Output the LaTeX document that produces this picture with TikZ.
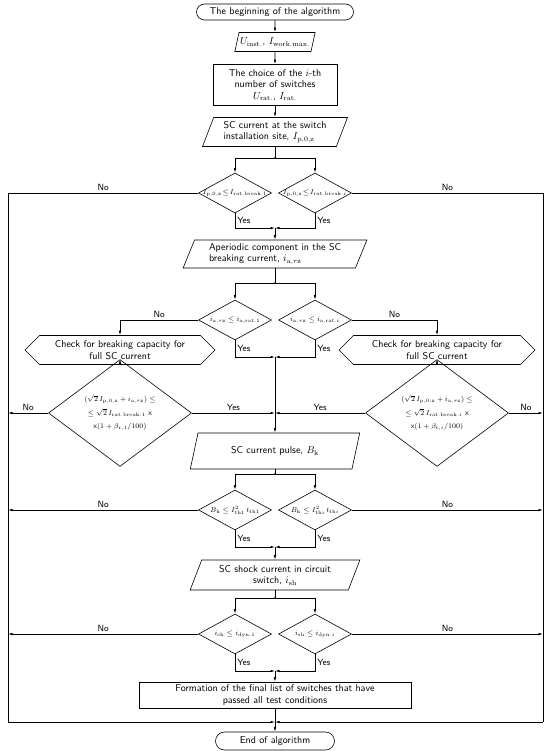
\documentclass[tikz,border=0pt]{standalone}
\usepackage{amsmath}
\usepackage{tikz}
\usetikzlibrary{
    calc,
    arrows.meta,
    positioning,
    shapes.geometric,
    shapes.misc,
    shapes.symbols
}
\tikzset{
    every node/.style={font=\sffamily\fontsize{10}{11.5}\selectfont},
    term/.style={draw,rounded rectangle,inner sep=1pt},
    datain/.style={draw,trapezium,trapezium left angle=68,trapezium right angle=112,
        trapezium stretches=true,inner sep=1pt},
    proc/.style={draw,rectangle,align=center,inner sep=1pt},
    cond/.style={draw,diamond,minimum width=73pt,minimum height=40pt,inner sep=0pt},
    bigcond/.style={draw,diamond,minimum width=143pt,minimum height=91pt,inner sep=0pt,
        align=center,font=\sffamily\fontsize{7.5}{13.5}\selectfont},
    check/.style={draw,signal,signal to=east and west,signal pointer angle=90,
        align=center,inner sep=2pt,minimum height=29pt},
    cl/.style={font=\scriptsize,inner sep=0pt},
    ans/.style={font=\sffamily\fontsize{9}{10}\selectfont,inner sep=2pt},
}

\begin{document}
\begin{tikzpicture}[x=1pt,y=-1pt,>={Latex[length=4.5pt,width=2.4pt]},line width=0.6pt]
    \useasboundingbox (0,0) rectangle (553,751);

    % main column
    \node[term,minimum width=159pt,minimum height=16pt] (start) at (275,12) {The beginning of the algorithm};
    \node[datain,minimum width=71pt,minimum height=19pt] (inp) at (275,42) {$U_{\mathrm{inst.}}$, $I_{\mathrm{work.max.}}$};
    \node[proc,minimum width=124pt,minimum height=41pt] (choice) at (275,85) {The choice of the $i$-th\\number of switches\\$U_{\mathrm{rat.}}$, $I_{\mathrm{rat.}}$};
    \node[datain,minimum width=145pt,minimum height=29pt,align=left] (site) at (275,132) {SC current at the switch\\installation site, $I_{\mathrm{p,0,z}}$};
    \node[datain,minimum width=184pt,minimum height=28pt,align=left] (aper) at (275,254) {Aperiodic component in the SC\\breaking current, $i_{\mathrm{a,\tau z}}$};
    \node[datain,minimum width=170pt,minimum height=36pt] (pulse) at (275,451) {SC current pulse, $B_{\mathrm{k}}$};
    \node[datain,minimum width=170pt,minimum height=30pt,align=center] (shock) at (275,575) {SC shock current in circuit\\switch, $i_{\mathrm{sh}}$};
    \node[proc,minimum width=272pt,minimum height=26pt] (final) at (275,695) {Formation of the final list of switches that have\\passed all test conditions};
    \node[term,minimum width=121pt,minimum height=18pt] (stop) at (275,741) {End of algorithm};

    % conditions
    \node[cond,label={[cl]center:$I_{\mathrm{p,0,z}}\!\le\! I_{\mathrm{rat.break.1}}$}] (c1a) at (235,193) {};
    \node[cond,label={[cl]center:$I_{\mathrm{p,0,z}}\!\le\! I_{\mathrm{rat.break.}i}$}] (c1b) at (315,193) {};
    \node[cond,label={[cl]center:$i_{\mathrm{a,\tau z}}\le i_{\mathrm{a,rat.1}}$}] (c2a) at (235,320) {};
    \node[cond,label={[cl]center:$i_{\mathrm{a,\tau z}}\le i_{\mathrm{a,rat.}i}$}] (c2b) at (315,320) {};
    \node[check,minimum width=190pt] (chkL) at (120,350) {Check for breaking capacity for\\full SC current};
    \node[check,minimum width=196pt] (chkR) at (437,350) {Check for breaking capacity for\\full SC current};
    \node[bigcond] (bdL) at (120,413) {$(\sqrt{2}\,I_{\mathrm{p,0,z}}+i_{\mathrm{a,\tau z}})\le$\\$\le\sqrt{2}\,I_{\mathrm{rat.break.1}}$ x\\x$(1+\beta_{\mathrm{r,1}}/100)$};
    \node[bigcond] (bdR) at (437,413) {$(\sqrt{2}\,I_{\mathrm{p,0,z}}+i_{\mathrm{a,\tau z}})\le$\\$\le\sqrt{2}\,I_{\mathrm{rat.break.}i}$ x\\x$(1+\beta_{\mathrm{r,}i}/100)$};
    \node[cond,label={[cl]center:$B_{\mathrm{k}}\le I_{\mathrm{th1}}^{2}\,t_{\mathrm{th1}}$}] (c4a) at (235,510) {};
    \node[cond,label={[cl]center:$B_{\mathrm{k}}\le I_{\mathrm{th}i}^{2}\,t_{\mathrm{th}i}$}] (c4b) at (315,510) {};
    \node[cond,label={[cl]center:$i_{\mathrm{sh}}\le i_{\mathrm{dyn.1}}$}] (c5a) at (235,634) {};
    \node[cond,label={[cl]center:$i_{\mathrm{sh}}\le i_{\mathrm{dyn.}i}$}] (c5b) at (315,634) {};

    % split and join points, rails
    \coordinate (s1) at (275,158);
    \coordinate (j1) at (275,228);
    \coordinate (s2) at (275,283);
    \coordinate (j2) at (275,357);
    \coordinate (s4) at (275,474);
    \coordinate (j4) at (275,547);
    \coordinate (s5) at (275,598);
    \coordinate (j5) at (275,671);
    \coordinate (tl) at (8,193);
    \coordinate (tr) at (543,193);
    \coordinate (bl) at (8,722);
    \coordinate (br) at (543,722);
    \coordinate (jend) at (275,722);

    \draw[->] (start) -- (inp);
    \draw[->] (inp) -- (choice);
    \draw[->] (choice) -- (site);
    \draw (site) -- (s1);
    \draw[->] (s1) -| (c1a.north);
    \draw[->] (s1) -| (c1b.north);
    \draw[->] (c1a.south) |- node[ans,pos=0.25,right](y1a){Yes} (j1);
    \draw[->] (c1b.south) |- node[ans,pos=0.25,right](y1b){Yes} (j1);
    \draw[->] (j1) -- (aper);
    \draw (c1a.west) -- node[ans,above](n1a){No} (tl) -- (bl);
    \draw (c1b.east) -- node[ans,above](n1b){No} (tr) -- (br);

    \draw (aper) -- (s2);
    \draw[->] (s2) -| (c2a.north);
    \draw[->] (s2) -| (c2b.north);
    \draw[->] (c2a.west) -| node[ans,pos=0.25,above](n2a){No} (chkL.north);
    \draw[->] (c2b.east) -| node[ans,pos=0.25,above](n2b){No} (chkR.north);
    \draw[->] (c2a.south) |- node[ans,pos=0.25,right](y2a){Yes} (j2);
    \draw[->] (c2b.south) |- node[ans,pos=0.25,right](y2b){Yes} (j2);
    \draw[->] (j2) -- (pulse);
    \draw[->] (chkL) -- (bdL);
    \draw[->] (chkR) -- (bdR);
    \draw[->] (bdL.west) -- node[ans,above](n3a){No} (bdL.west -| tl);
    \draw[->] (bdR.east) -- node[ans,above](n3b){No} (bdR.east -| tr);
    \draw[->] (bdL.east) -- node[ans,above](y3a){Yes} (bdL.east -| j2);
    \draw[->] (bdR.west) -- node[ans,above](y3b){Yes} (bdR.west -| j2);

    \draw (pulse) -- (s4);
    \draw[->] (s4) -| (c4a.north);
    \draw[->] (s4) -| (c4b.north);
    \draw[->] (c4a.west) -- node[ans,above](n4a){No} (c4a.west -| tl);
    \draw[->] (c4b.east) -- node[ans,above](n4b){No} (c4b.east -| tr);
    \draw[->] (c4a.south) |- node[ans,pos=0.25,right](y4a){Yes} (j4);
    \draw[->] (c4b.south) |- node[ans,pos=0.25,right](y4b){Yes} (j4);
    \draw[->] (j4) -- (shock);

    \draw (shock) -- (s5);
    \draw[->] (s5) -| (c5a.north);
    \draw[->] (s5) -| (c5b.north);
    \draw[->] (c5a.west) -- node[ans,above](n5a){No} (c5a.west -| tl);
    \draw[->] (c5b.east) -- node[ans,above](n5b){No} (c5b.east -| tr);
    \draw[->] (c5a.south) |- node[ans,pos=0.25,right](y5a){Yes} (j5);
    \draw[->] (c5b.south) |- node[ans,pos=0.25,right](y5b){Yes} (j5);
    \draw[->] (j5) -- (final);

    \draw[->] (bl) -- (jend);
    \draw[->] (br) -- (jend);
    \draw[->] (final) -- (stop);
    \foreach \p in {s1,s2,s4,s5} \fill (\p) circle (1pt);
\end{tikzpicture}
\end{document}
